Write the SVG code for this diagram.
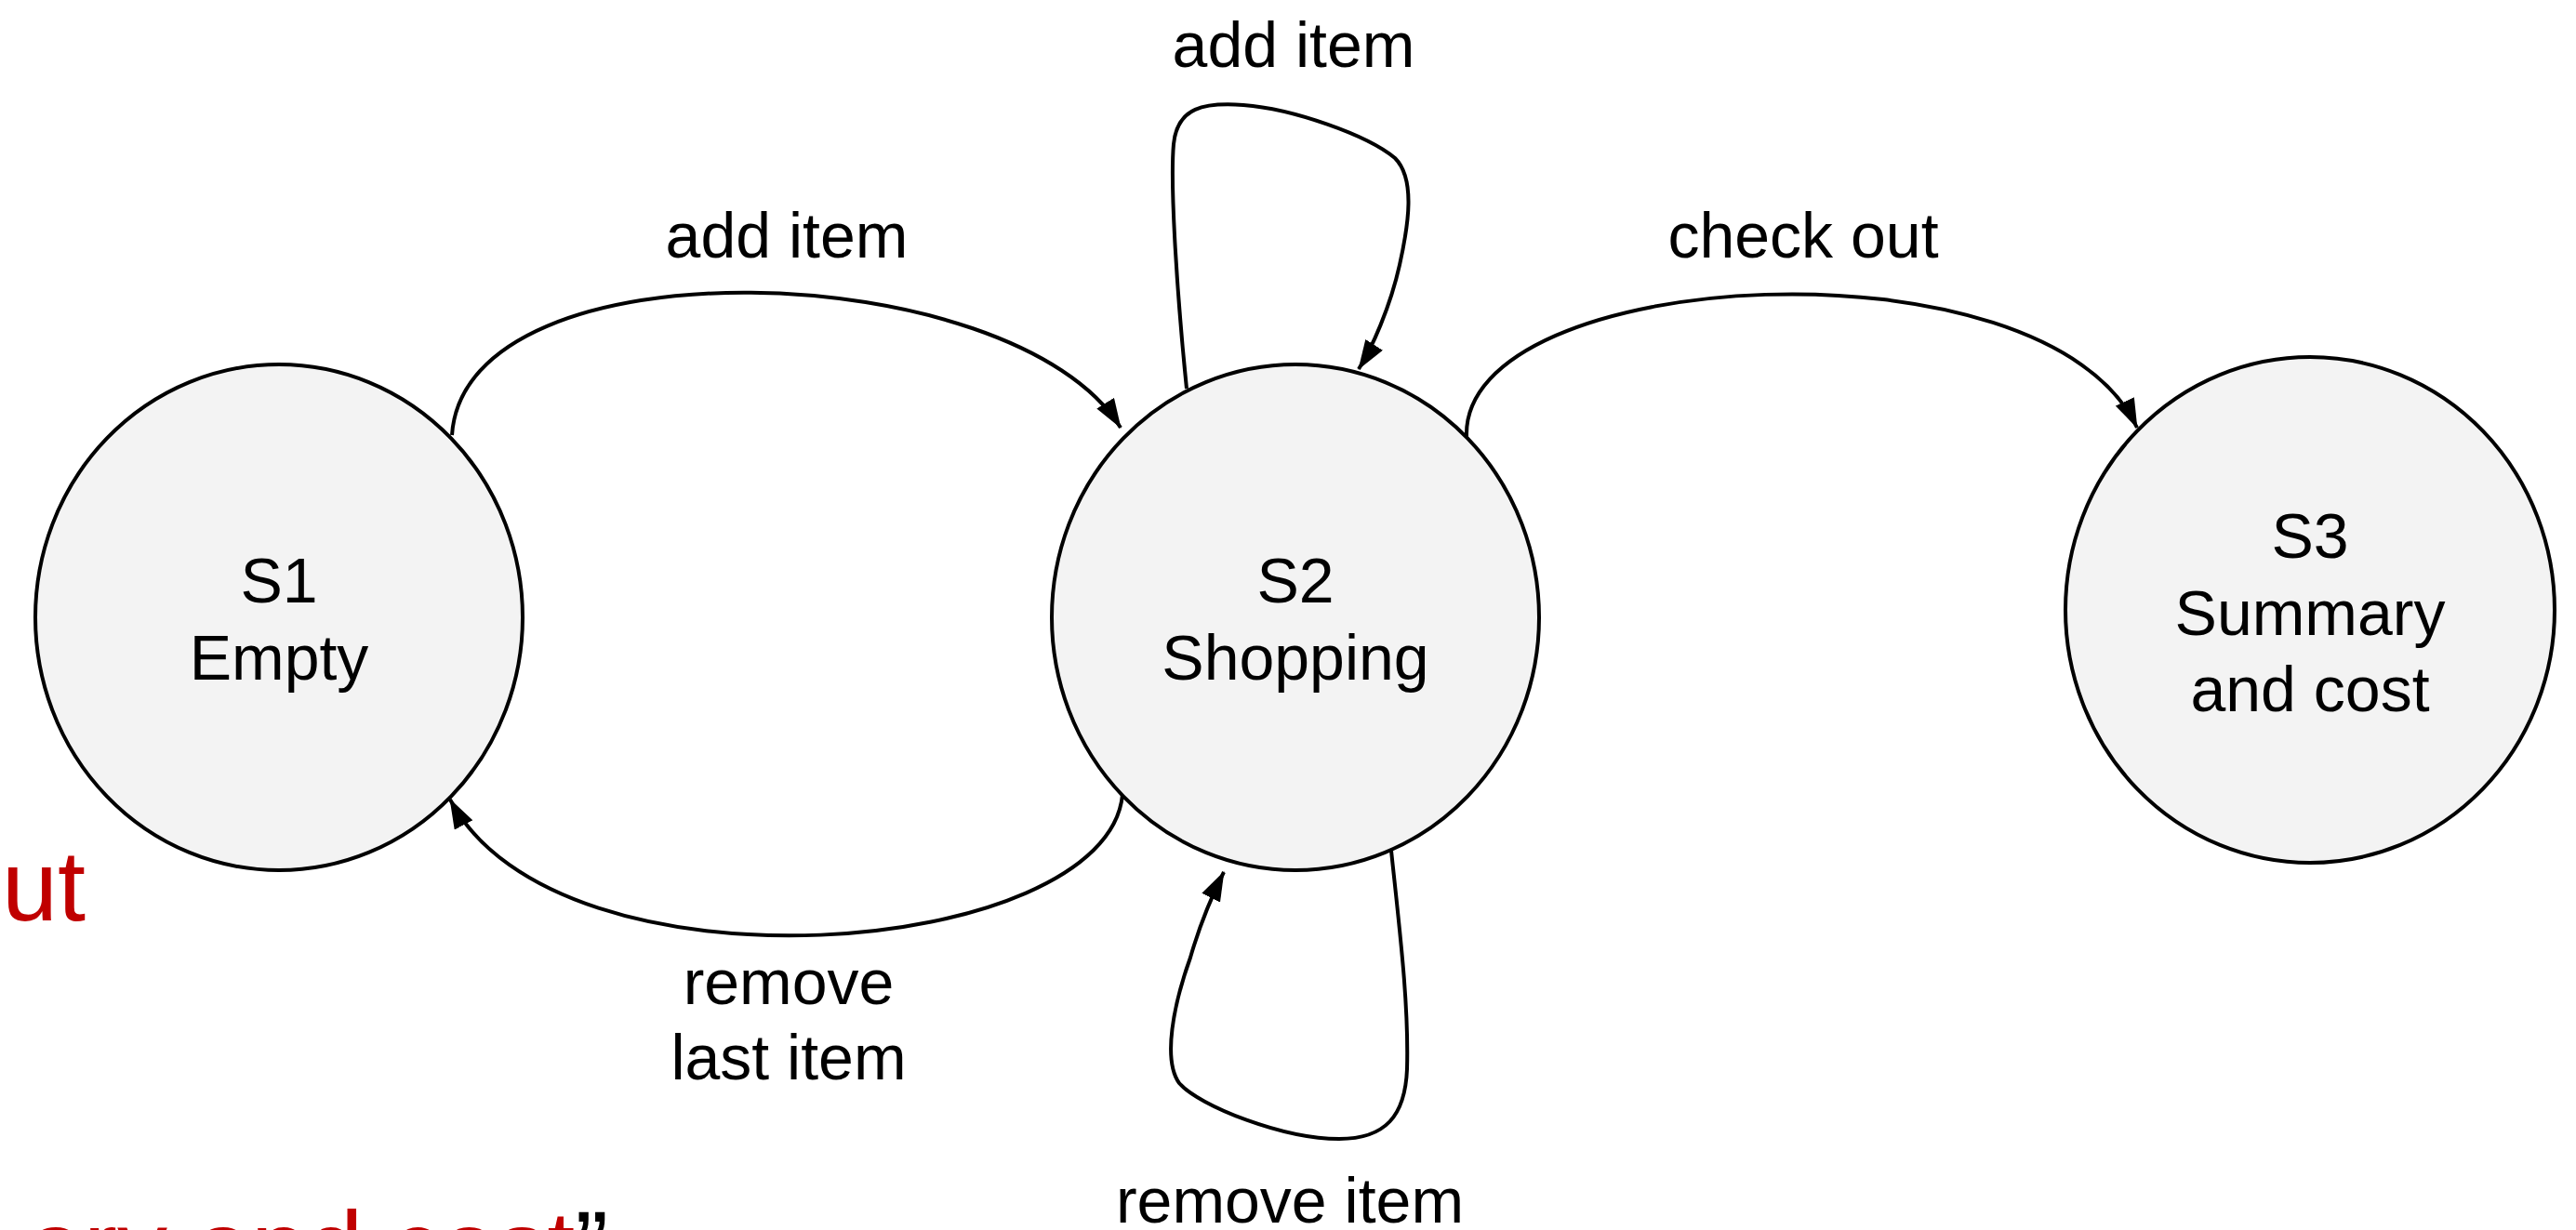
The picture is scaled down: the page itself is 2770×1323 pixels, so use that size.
<svg xmlns="http://www.w3.org/2000/svg" width="2770" height="1323" viewBox="0 0 2770 1323">
<style>
.node{fill:#f3f3f3;stroke:#000;stroke-width:4}
.t{font-family:"Liberation Sans",Arial,sans-serif;font-size:68px;fill:#000;text-anchor:middle}
.c{fill:none;stroke:#000;stroke-width:4}
.red{font-family:"Liberation Sans",Arial,sans-serif;font-size:108px;fill:#c00000}
</style>
<defs>
<marker id="ah" viewBox="0 0 32 22" refX="31" refY="11" markerWidth="32" markerHeight="22" markerUnits="userSpaceOnUse" orient="auto">
<path d="M0,0 L32,11 L0,22 z" fill="#000"/>
</marker>
</defs>
<rect width="2770" height="1323" fill="#fff"/>
<text class="red" x="2" y="990">ut</text>
<text class="red" x="30" y="1378">ary and cost<tspan fill="#000">”</tspan></text>
<g id="connectors">
<path class="c" marker-end="url(#ah)" d="M486,468 C500,255 1090,275 1205,460"/>
<path class="c" marker-end="url(#ah)" d="M1207,855 C1190,1030 600,1080 484,860"/>
<path class="c" marker-end="url(#ah)" d="M1276,418 C1266,320 1258,200 1262,155 C1266,115 1295,110 1337,113 C1390,117 1470,145 1500,170 C1522,192 1515,240 1505,285 C1495,330 1475,375 1461,397"/>
<path class="c" marker-end="url(#ah)" d="M1496,915 C1505,1000 1515,1080 1513,1150 C1511,1200 1490,1225 1440,1225 C1380,1225 1290,1190 1268,1165 C1250,1140 1262,1080 1280,1030 C1290,995 1305,960 1316,938"/>
<path class="c" marker-end="url(#ah)" d="M1577,470 C1570,285 2200,250 2298,460"/>
<text class="t" x="846" y="277">add item</text>
<text class="t" x="1391" y="72">add item</text>
<text class="t" x="1939" y="277">check out</text>
<text class="t" x="848" y="1080">remove</text>
<text class="t" x="848" y="1161">last item</text>
<text class="t" x="1387" y="1315">remove item</text>
</g>
<g id="S1">
<ellipse class="node" cx="300" cy="664" rx="262" ry="272"/>
<text class="t" x="300" y="648">S1</text>
<text class="t" x="300" y="731">Empty</text>
</g>
<g id="S2">
<ellipse class="node" cx="1393" cy="664" rx="262" ry="272"/>
<text class="t" x="1393" y="648">S2</text>
<text class="t" x="1393" y="731">Shopping</text>
</g>
<g id="S3">
<ellipse class="node" cx="2484" cy="656" rx="263" ry="272"/>
<text class="t" x="2484" y="600">S3</text>
<text class="t" x="2484" y="683">Summary</text>
<text class="t" x="2484" y="765">and cost</text>
</g>
</svg>
